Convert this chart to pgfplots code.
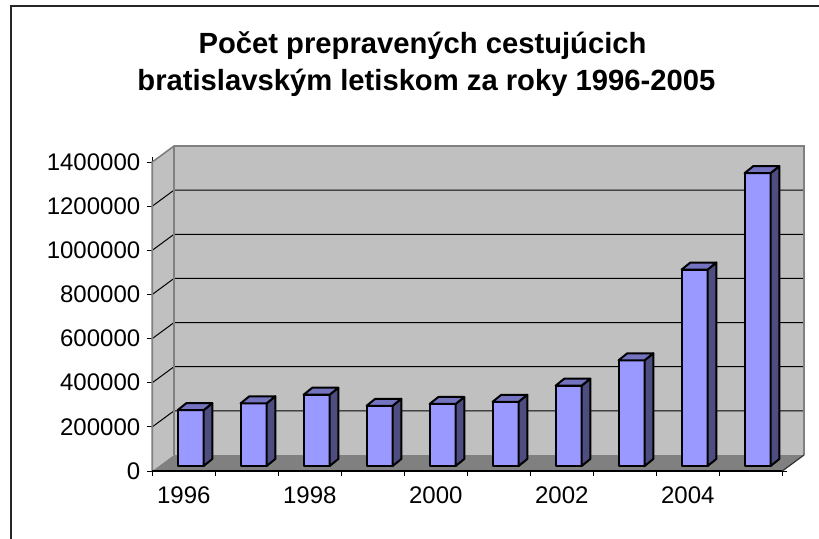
\documentclass[border=0pt]{standalone}
\usepackage{fontspec}
\setmainfont{Liberation Sans}
\usepackage{pgfplots}
\usepackage{pgfplotstable}
\pgfplotsset{compat=1.18}
\definecolor{barfront}{HTML}{9999FF}
\definecolor{bartop}{HTML}{7373BF}
\definecolor{barside}{HTML}{4D4D80}
\definecolor{wallc}{HTML}{C0C0C0}
\definecolor{floorc}{HTML}{808080}
\definecolor{edgec}{HTML}{808080}

\pgfplotstableread{
x y
0 253000
1 284000
2 323000
3 273000
4 281000
5 291000
6 364000
7 479000
8 890000
9 1327000
}\datatable

\begin{document}
\begin{tikzpicture}
\path[use as bounding box] (0pt,0pt) rectangle (409.5pt,269pt);
\begin{scope}
\clip (0pt,0pt) rectangle (409.5pt,269pt);
\draw[line width=1pt, black!85] (5.5pt,-10pt) -- (5.5pt,265.85pt) -- (420pt,265.85pt);
\end{scope}
\node[font=\bfseries\fontsize{14.6}{17}\selectfont, anchor=base, inner sep=0pt] at (211.3pt,242.35pt) {Počet prepravených cestujúcich};
\node[font=\bfseries\fontsize{14.6}{17}\selectfont, anchor=base, inner sep=0pt] at (213.2pt,223.65pt) {bratislavským letiskom za roky 1996-2005};

\begin{axis}[
  at={(76.15pt,33.5pt)}, anchor=south west,
  scale only axis, width=315pt, height=154.5pt,
  xmin=-0.5, xmax=9.5, ymin=0, ymax=1400000,
  scaled y ticks=false,
  axis line style={draw=none},
  tick align=outside,
  major tick length=2.5pt,
  tick style={black, line width=0.5pt},
  xtick={-0.5,0.5,...,9.5},
  xticklabels={1996,,1998,,2000,,2002,,2004,,},
  xticklabel style={xshift=15.75pt, yshift=-2pt},
  ytick={0,200000,400000,600000,800000,1000000,1200000,1400000},
  yticklabels={0,200000,400000,600000,800000,1000000,1200000,1400000},
  ticklabel style={font=\fontsize{12}{14}\selectfont},
  clip=false,
]
% side wall
\fill[wallc] (axis cs:-0.5,0) -- ([xshift=10.85pt,yshift=8pt]axis cs:-0.5,0) -- ([xshift=10.85pt,yshift=8pt]axis cs:-0.5,1400000) -- (axis cs:-0.5,1400000) -- cycle;
% back wall
\fill[wallc] ([xshift=10.85pt,yshift=8pt]axis cs:-0.5,0) rectangle ([xshift=10.85pt,yshift=8pt]axis cs:9.5,1400000);
% floor
\fill[floorc] (axis cs:-0.5,0) -- (axis cs:9.5,0) -- ([xshift=10.85pt,yshift=8pt]axis cs:9.5,0) -- ([xshift=10.85pt,yshift=8pt]axis cs:-0.5,0) -- cycle;
% gridlines
\pgfplotsinvokeforeach{200000,400000,600000,800000,1000000,1200000}{
  \draw[black, line width=0.5pt] (axis cs:-0.5,#1) -- ([xshift=10.85pt,yshift=8pt]axis cs:-0.5,#1) -- ([xshift=10.85pt,yshift=8pt]axis cs:9.5,#1);
}
% wall edges
\draw[edgec, line width=0.8pt] (axis cs:-0.5,0) -- (axis cs:-0.5,1400000) -- ([xshift=10.85pt,yshift=8pt]axis cs:-0.5,1400000) -- ([xshift=10.85pt,yshift=8pt]axis cs:9.5,1400000) -- ([xshift=10.85pt,yshift=8pt]axis cs:9.5,0);
\draw[edgec, line width=0.8pt] ([xshift=10.85pt,yshift=8pt]axis cs:-0.5,0) -- ([xshift=10.85pt,yshift=8pt]axis cs:-0.5,1400000);
\draw[black!80, line width=0.6pt] ([xshift=10.85pt,yshift=8pt]axis cs:9.5,0) -- (axis cs:9.5,0);
\draw[black, line width=0.6pt] (axis cs:-0.5,0) -- (axis cs:9.5,0);

% top and side faces of the columns
\addplot[scatter, only marks, mark=*, mark size=0pt,
  visualization depends on={rawy \as \rawy},
  scatter/@pre marker code/.code={%
    \pgfkeys{/pgf/fpu=true,/pgf/fpu/output format=fixed}%
    \pgfmathparse{\rawy*0.000110357142857}%
    \let\hh\pgfmathresult
    \pgfkeys{/pgf/fpu=false}%
    \filldraw[fill=barside, draw=black, line width=1pt, line join=round]
      (9.9pt,2.5pt) -- ++(4.35pt,3.5pt) -- ++(0pt,-\hh pt) -- ++(-4.35pt,-3.5pt) -- cycle;
    \filldraw[fill=bartop, draw=black, line width=1pt, line join=round]
      (9.9pt,2.5pt) -- ++(4.35pt,3.5pt) -- ++(-13pt,0pt) -- ++(-4.35pt,-3.5pt) -- cycle;
    \scope
  },
  scatter/@post marker code/.code={\endscope},
] table[x=x,y=y] {\datatable};

% front faces
\addplot[ybar, bar width=13pt, bar shift=3.4pt, yshift=2.5pt,
  fill=barfront, draw=black, line width=1pt, line join=round]
  table[x=x,y=y] {\datatable};
\end{axis}
\end{tikzpicture}
\end{document}
